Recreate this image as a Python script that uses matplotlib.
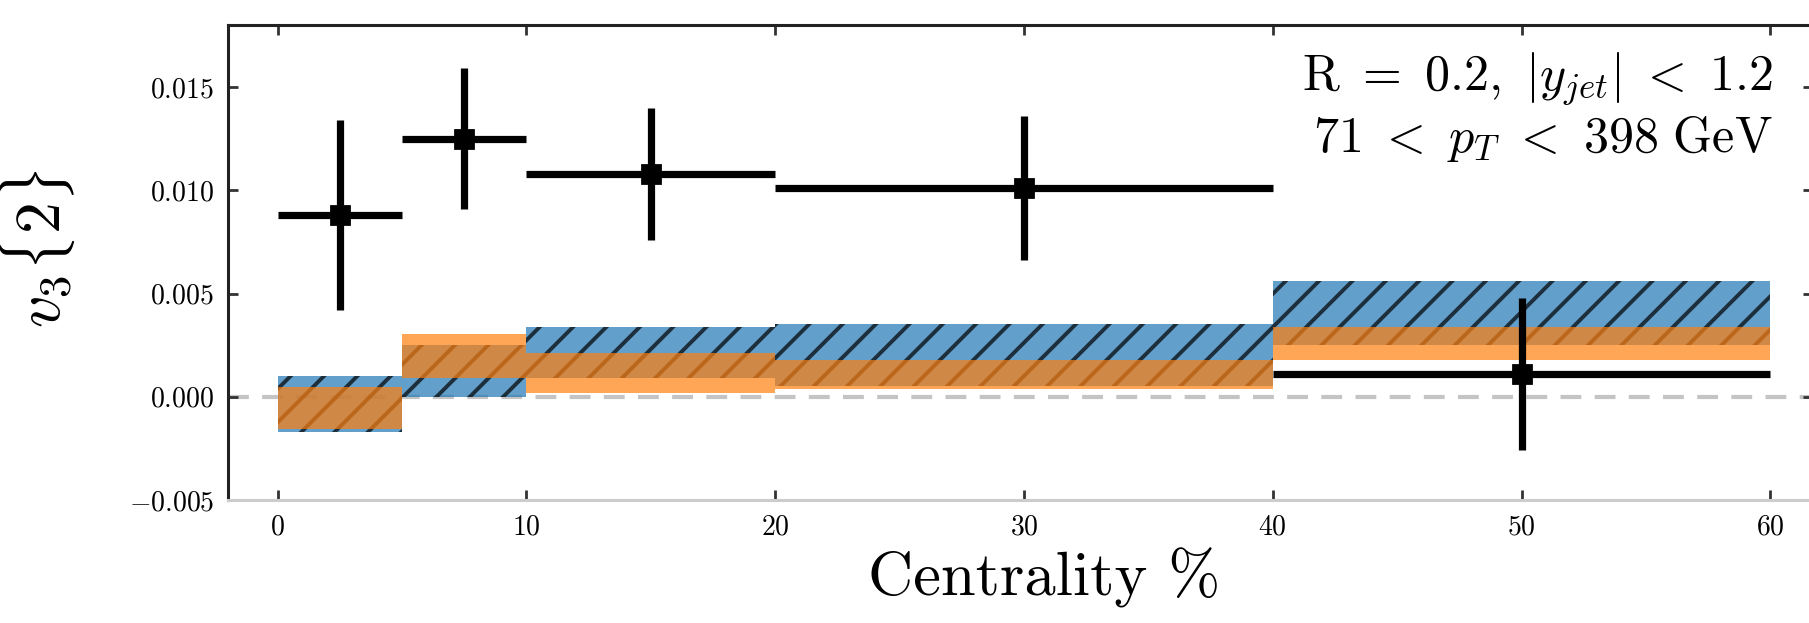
import numpy as np
import matplotlib.pyplot as plt

# centrality bins
bin_lo = np.array([0, 5, 10, 20, 40])
bin_hi = np.array([5, 10, 20, 40, 60])

# measured v3{2} with stat errors
v3_data = np.array([0.0088, 0.0125, 0.0108, 0.0101, 0.0011])
v3_err = np.array([0.0046, 0.0034, 0.0032, 0.0035, 0.0037])

# model bands (blue hatched, orange on top)
blue_lo = np.array([-0.0017, 0.0000, 0.0009, 0.0005, 0.0025])
blue_hi = np.array([0.0010, 0.0025, 0.0034, 0.0035, 0.0056])
orange_lo = np.array([-0.00155, 0.0009, 0.00016, 0.0004, 0.0018])
orange_hi = np.array([0.00046, 0.00305, 0.0021, 0.0018, 0.0034])

xticks = [0, 10, 20, 30, 40, 50, 60]
yticks = [-0.005, 0.0, 0.005, 0.010, 0.015]

plt.rcParams.update({
    "font.family": "serif",
    "font.serif": ["cmr10"],
    "mathtext.fontset": "cm",
    "axes.formatter.use_mathtext": True,
    "hatch.linewidth": 1.4,
})

centers = (bin_lo + bin_hi) / 2
widths = bin_hi - bin_lo

fig = plt.figure(figsize=(9.045, 3.115), dpi=200)
ax = fig.add_axes([0.126, 0.1974, 0.876, 0.7624])

ax.axhline(0, color="#c4c4c4", ls=(0, (5, 3.2)), lw=1.5, zorder=0)

ax.bar(centers, blue_hi - blue_lo, bottom=blue_lo, width=widths,
       color="tab:blue", alpha=0.7, hatch="//", edgecolor="black",
       linewidth=0, zorder=1)
ax.bar(centers, orange_hi - orange_lo, bottom=orange_lo, width=widths,
       color="tab:orange", alpha=0.7, linewidth=0, zorder=2)

ax.errorbar(centers, v3_data, xerr=widths / 2, yerr=v3_err, fmt="s",
            color="black", ms=6.5, elinewidth=2.6, capsize=0, zorder=3)

ax.set_xlim(-2, 61.7)
ax.set_ylim(-0.005, 0.018)
ax.set_xticks(xticks)
ax.set_yticks(yticks)

ax.tick_params(direction="in", top=True, right=True, length=3.5, width=1,
               color="#333333", labelsize=10, pad=5)
for s in ["left", "top", "right"]:
    ax.spines[s].set_color("#222222")
    ax.spines[s].set_linewidth(1.1)
ax.spines["bottom"].set_color("#cccccc")
ax.spines["bottom"].set_linewidth(1.1)

ax.set_xlabel("Centrality %", fontsize=22.5)
ax.xaxis.set_label_coords(0.515, -0.10, transform=ax.transAxes)
ax.xaxis.label.set_va("top")
ax.set_ylabel(r"$v_3\{2\}$", fontsize=23)
ax.yaxis.set_label_coords(-0.095, 0.53)

ax.text(60.1, 0.0168,
        r"$\mathrm{R}\ =\ 0.2,\ |y_{jet}|\ <\ 1.2$" + "\n"
        + r"$71\ <\ p_T\ <\ 398\ \mathrm{GeV}$",
        ha="right", va="top", fontsize=18)

fig.savefig("out.png", dpi=200)
